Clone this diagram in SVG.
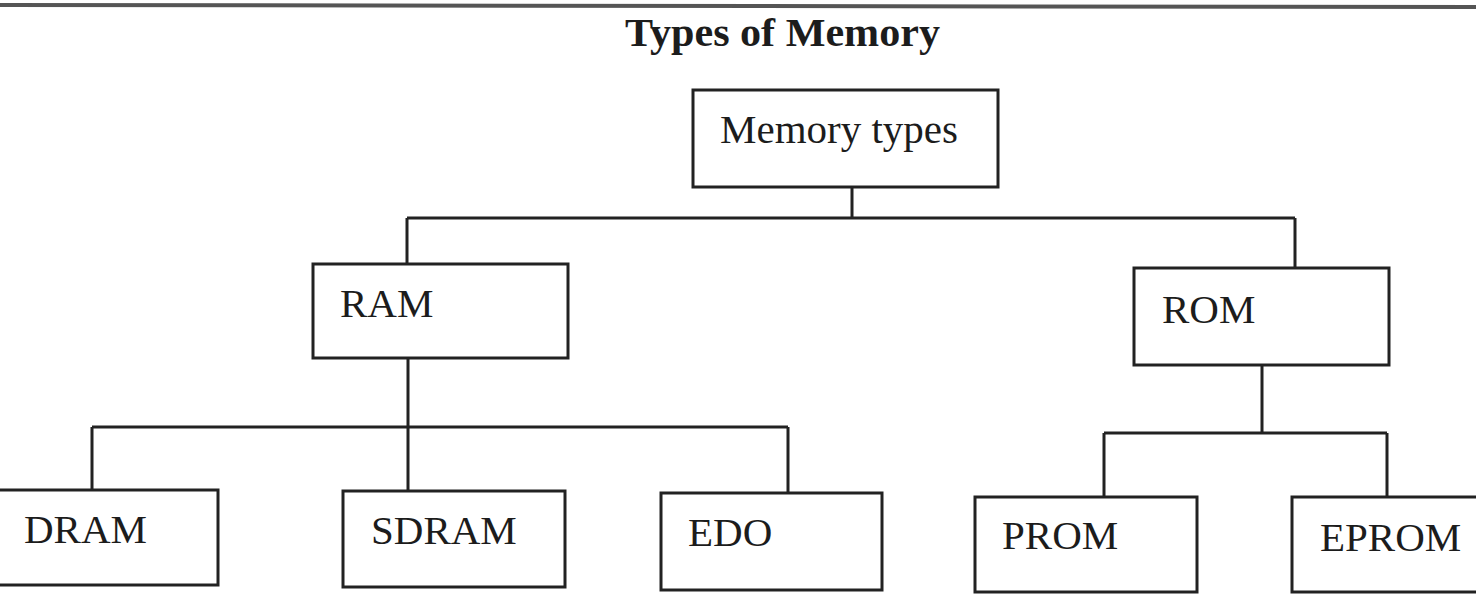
<svg xmlns="http://www.w3.org/2000/svg" width="1476" height="608" viewBox="0 0 1476 608">
<style>
.box{fill:#fff;stroke:#222;stroke-width:3}
.lbl{font-family:"Liberation Serif",serif;font-size:41px;fill:#1c1c1c}
.title{font-family:"Liberation Serif",serif;font-size:40px;font-weight:bold;fill:#1c1c1c}
.conn{fill:none;stroke:#222;stroke-width:3}
</style>
<rect width="1476" height="608" fill="#fff"/>
<line x1="0" y1="5" x2="1476" y2="7" stroke="#555" stroke-width="4"/>
<text class="title" x="625" y="46" textLength="315" lengthAdjust="spacingAndGlyphs">Types of Memory</text>
<g id="connectors">
<path class="conn" d="M852 187 V218 M407 218 H1295 M407 218 V264 M1295 218 V268"/>
<path class="conn" d="M408 358 V491 M92 427 H788 M92 427 V490 M788 427 V493"/>
<path class="conn" d="M1262 365 V433 M1104 433 H1387 M1104 433 V497 M1387 433 V497"/>
</g>
<g id="memory-types"><rect class="box" x="693" y="90" width="305" height="97"/><text class="lbl" x="720" y="143">Memory types</text></g>
<g id="ram"><rect class="box" x="313" y="264" width="255" height="94"/><text class="lbl" x="340" y="317">RAM</text></g>
<g id="rom"><rect class="box" x="1134" y="268" width="255" height="97"/><text class="lbl" x="1162" y="323">ROM</text></g>
<g id="dram"><rect class="box" x="-2" y="490" width="220" height="95"/><text class="lbl" x="24" y="543">DRAM</text></g>
<g id="sdram"><rect class="box" x="343" y="491" width="222" height="96"/><text class="lbl" x="371" y="544">SDRAM</text></g>
<g id="edo"><rect class="box" x="661" y="493" width="221" height="97"/><text class="lbl" x="688" y="546">EDO</text></g>
<g id="prom"><rect class="box" x="975" y="497" width="222" height="95"/><text class="lbl" x="1002" y="549">PROM</text></g>
<g id="eprom"><rect class="box" x="1292" y="497" width="200" height="95"/><text class="lbl" x="1320" y="551">EPROM</text></g>
</svg>
